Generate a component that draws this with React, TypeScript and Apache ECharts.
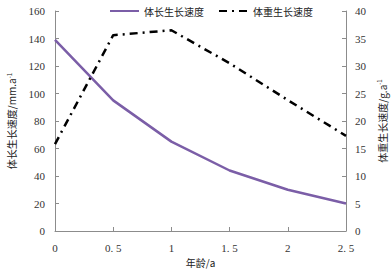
import React, { useEffect, useRef } from "react";
import * as echarts from "echarts";

const ages = [0, 0.5, 1, 1.5, 2, 2.5];
const lengthRate = [139, 95, 65, 44, 30, 20];
const weightRate = [15.8, 35.6, 36.5, 30.5, 23.8, 17.3];
const seriesNames = ["体长生长速度", "体重生长速度"];
const xName = "年龄/a";

const FONT = "'Liberation Serif', 'Noto Sans CJK SC', serif";
const CJK = "'Noto Sans CJK SC', 'Liberation Serif', sans-serif";

export default function App() {
  const ref = useRef<HTMLDivElement>(null);
  useEffect(() => {
    if (!ref.current) return;
    const chart = echarts.init(ref.current, undefined, { renderer: "svg" });
    const axisLine = { show: true, lineStyle: { color: "#8c8c8c", width: 1 } };
    const axisTick = { show: true, inside: true, length: 4, lineStyle: { color: "#8c8c8c" } };
    const labelStyle = { color: "#333", fontFamily: FONT, fontSize: 11 };
    const nameRich = {
      a: { fontFamily: CJK, fontSize: 10, color: "#222" },
      s: { fontFamily: CJK, fontSize: 6, color: "#222", verticalAlign: "top", padding: [0, 0, 5, 0] },
    };
    chart.setOption({
      animation: false,
      backgroundColor: "#fff",
      legend: {
        top: 1,
        left: 104,
        itemWidth: 29,
        itemHeight: 10,
        itemGap: 14,
        itemStyle: { opacity: 0 },
        textStyle: { fontFamily: CJK, fontSize: 10, color: "#222" },
        data: seriesNames,
      },
      grid: { left: 55, right: 45, top: 11, bottom: 41, containLabel: false, outerBoundsMode: "none" },
      xAxis: {
        type: "value",
        min: 0,
        max: 2.5,
        interval: 0.5,
        name: xName,
        nameLocation: "middle",
        nameGap: 24,
        nameTextStyle: { fontFamily: CJK, fontSize: 10, color: "#222" },
        axisLine,
        axisTick,
        splitLine: { show: false },
        axisLabel: {
          ...labelStyle,
          margin: 11,
          formatter: (v: number) => String(v).replace(".", ". "),
        },
      },
      yAxis: [
        {
          type: "value",
          min: 0,
          max: 160,
          interval: 20,
          name: "{a|体长生长速度/mm.a}{s|-1}",
          nameLocation: "middle",
          nameRotate: 90,
          nameGap: 38,
          nameTextStyle: { rich: nameRich },
          axisLine,
          axisTick,
          splitLine: { show: false },
          axisLabel: { ...labelStyle, margin: 10 },
        },
        {
          type: "value",
          min: 0,
          max: 40,
          interval: 5,
          position: "right",
          name: "{a|体重生长速度/g.a}{s|-1}",
          nameLocation: "middle",
          nameRotate: 90,
          nameGap: 28,
          nameTextStyle: { rich: nameRich },
          axisLine,
          axisTick,
          splitLine: { show: false },
          axisLabel: { ...labelStyle, margin: 9 },
        },
      ],
      series: [
        {
          name: seriesNames[0],
          type: "line",
          yAxisIndex: 0,
          symbol: "none",
          data: ages.map((a, i) => [a, lengthRate[i]]),
          lineStyle: { color: "#7B5EA7", width: 2.5 },
          itemStyle: { color: "#7B5EA7" },
        },
        {
          name: seriesNames[1],
          type: "line",
          yAxisIndex: 1,
          symbol: "none",
          data: ages.map((a, i) => [a, weightRate[i]]),
          lineStyle: { color: "#000", width: 2.5, type: [8, 5, 2, 5] },
          itemStyle: { color: "#000" },
        },
      ],
    });
    return () => chart.dispose();
  }, []);
  return (
    <div
      ref={ref}
      style={{ position: "fixed", left: 0, top: 0, width: 391, height: 272 }}
    />
  );
}
